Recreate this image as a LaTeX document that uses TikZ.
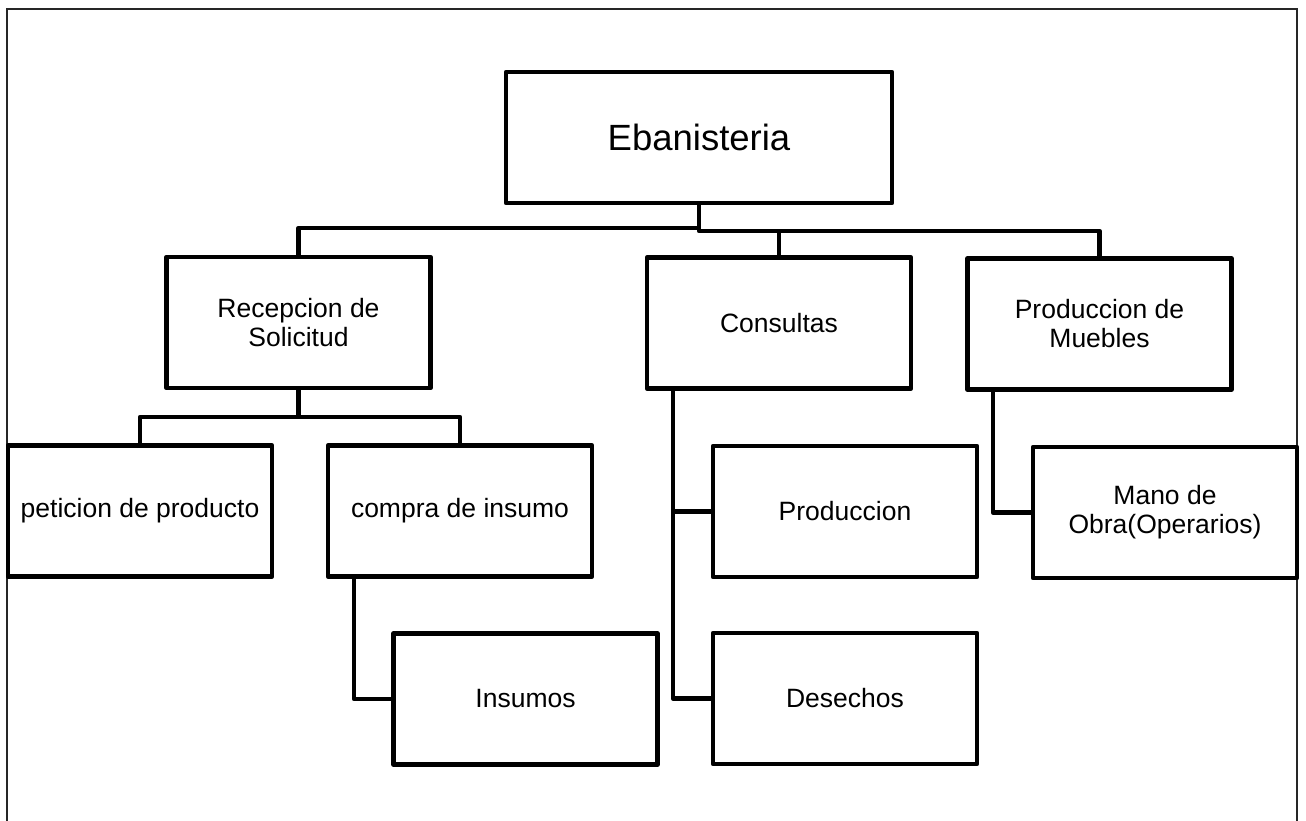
\documentclass[tikz,border=0pt]{standalone}
\usepackage{fontspec}
\setmainfont{Liberation Sans}
\begin{document}
\begin{tikzpicture}[x=1pt,y=-1pt,
  box/.style={draw=black,line width=4.5pt,line join=round,fill=white,
    minimum width=264pt,minimum height=131pt,inner sep=0pt,align=center,
    font=\fontsize{26.5}{29}\selectfont},
  conn/.style={draw=black,line width=4.5pt,line join=round}]
\useasboundingbox (0,0) rectangle (1306,821);
% frame
\draw[line width=2pt,black!85] (7,821) -- (7,9) -- (1297,9) -- (1297,821);

% boxes
\node[box,minimum width=386pt,font=\fontsize{36.5}{40}\selectfont] (eb) at (699,137.5) {Ebanisteria};
\node[box] (rec)  at (298.5,322.5) {Recepcion de\\Solicitud};
\node[box] (cons) at (779,323)     {Consultas};
\node[box] (pm)   at (1099.5,324)  {Produccion de\\Muebles};
\node[box] (pet)  at (140,511)     {peticion de producto};
\node[box] (comp) at (460,511)     {compra de insumo};
\node[box] (ins)  at (525.5,699)   {Insumos};
\node[box] (prod) at (845,511.5)   {Produccion};
\node[box] (des)  at (845,698.5)   {Desechos};
\node[box] (mano) at (1165,512.5)  {Mano de\\Obra(Operarios)};

% tap points on the lower box edges
\coordinate (ct) at (673,388);
\coordinate (mt) at (993,390);
\coordinate (it) at (354,577);

% top level
\draw[conn] (eb.south) |- (pm.north |- 0,231) -- (pm.north);
\draw[conn] (eb.south |- 0,228) -| (rec.north);
\draw[conn] (cons.north |- 0,231) -- (cons.north);

% Recepcion de Solicitud
\draw[conn] (rec.south) |- (comp.north |- 0,417) -- (comp.north);
\draw[conn] (rec.south |- 0,417) -| (pet.north);
\draw[conn] (it) |- (ins.west);

% Consultas
\draw[conn] (ct) |- (des.west);
\draw[conn] (ct |- prod.west) -- (prod.west);

% Produccion de Muebles
\draw[conn] (mt) |- (mano.west);
\end{tikzpicture}
\end{document}
